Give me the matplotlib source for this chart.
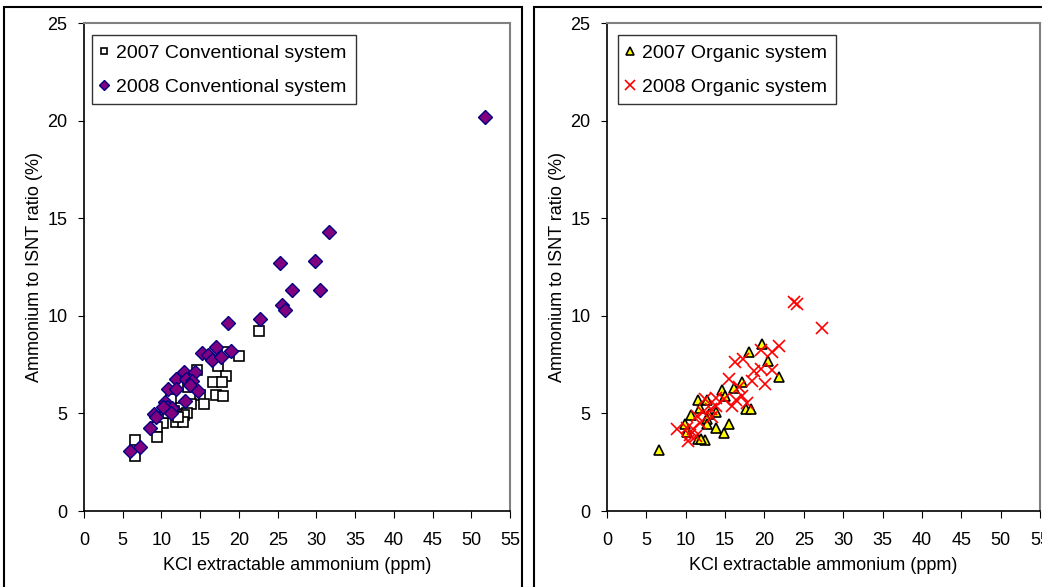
import matplotlib
matplotlib.use("Agg")
import matplotlib.pyplot as plt
from matplotlib.patches import Rectangle

plt.rcParams['font.family'] = ['Liberation Sans', 'DejaVu Sans']

# 2007 conventional system (squares)
conv07_x = [22.6, 20.0, 18.4, 17.35, 14.6, 18.3, 16.7, 17.8, 13.45, 15.0, 17.05, 17.95,
            15.55, 13.75, 11.2, 12.5, 13.36, 12.9, 11.9, 10.0, 10.2, 11.9, 12.8, 9.37,
            9.37, 6.57, 6.57, 11.6, 12.2, 10.9]
conv07_y = [9.24, 7.96, 8.13, 7.43, 7.2, 6.92, 6.63, 6.61, 6.37, 5.96, 5.96, 5.88,
            5.5, 5.5, 5.74, 5.26, 5.0, 4.93, 4.97, 4.83, 4.52, 4.57, 4.57, 4.32,
            3.81, 3.64, 2.82, 5.1, 4.8, 5.0]

# 2008 conventional system (diamonds)
conv08_x = [51.8, 25.3, 26.8, 25.6, 25.9, 18.65, 22.7, 29.8, 31.6, 30.5, 15.25, 16.07,
            17.1, 16.5, 17.7, 19.0, 12.85, 14.3, 11.9, 13.2, 13.96, 13.66, 10.9, 11.9,
            14.7, 13.1, 10.4, 10.66, 11.4, 10.2, 11.17, 9.1, 9.3, 8.5, 5.93, 7.2]
conv08_y = [20.2, 12.69, 11.34, 10.55, 10.3, 9.65, 9.85, 12.8, 14.3, 11.3, 8.08, 7.99,
            8.38, 7.74, 7.87, 8.21, 7.12, 7.12, 6.75, 6.78, 6.68, 6.47, 6.23, 6.23,
            6.13, 5.65, 5.6, 5.34, 5.26, 5.31, 5.0, 4.97, 4.83, 4.27, 3.09, 3.29]

# 2007 organic system (triangles)
org07_x = [6.6, 19.7, 18.1, 20.4, 21.8, 17.1, 16.1, 14.6, 15.0, 17.7, 18.3, 11.6,
           12.75, 11.8, 10.7, 12.9, 13.9, 9.9, 12.67, 12.67, 15.5, 13.9, 14.8, 10.1,
           11.5, 12.46, 12.0]
org07_y = [3.12, 8.58, 8.16, 7.71, 6.86, 6.62, 6.31, 6.21, 5.9, 5.22, 5.22, 5.7,
           5.7, 5.26, 4.91, 4.96, 5.08, 4.45, 4.71, 4.45, 4.45, 4.23, 3.99, 4.03,
           3.68, 3.65, 3.7]

# 2008 organic system (crosses)
org08_x = [23.8, 24.1, 27.3, 21.8, 20.9, 19.5, 17.3, 16.3, 18.7, 19.5, 20.9, 18.4,
           20.1, 15.5, 16.8, 17.1, 17.75, 15.85, 16.4, 14.8, 13.8, 12.4, 13.8, 13.2,
           12.2, 11.4, 13.3, 11.8, 8.86, 10.1, 10.95, 10.5, 10.3, 11.3]
org08_y = [10.7, 10.6, 9.4, 8.46, 8.16, 8.26, 7.78, 7.61, 7.18, 7.3, 7.23, 6.67,
           6.5, 6.76, 6.33, 5.9, 5.53, 5.36, 5.7, 5.73, 5.8, 5.73, 5.4, 5.2,
           5.05, 4.88, 4.8, 4.5, 4.2, 4.23, 4.2, 3.9, 3.6, 3.84]

xticks = list(range(0, 56, 5))
yticks = list(range(0, 26, 5))

fig = plt.figure(figsize=(10.42, 5.87), dpi=100)
W, H = 1042, 587

# panel frames
fig.add_artist(Rectangle((4 / W, -0.05), (522 - 4) / W, 1 - 7 / H + 0.05,
                         transform=fig.transFigure, fill=False, ec='black', lw=1.5))
fig.add_artist(Rectangle((534 / W, -0.05), 0.6, 1 - 7 / H + 0.05,
                         transform=fig.transFigure, fill=False, ec='black', lw=1.5))

ax1 = fig.add_axes([84 / W, 1 - 511 / H, (510 - 84) / W, (511 - 23) / H])
ax2 = fig.add_axes([607 / W, 1 - 511 / H, (1040 - 607) / W, (511 - 23) / H])

ax1.plot(conv07_x, conv07_y, 's', ms=6.5, mfc='white', mec='black', mew=1.2,
         label='2007 Conventional system')
ax1.plot(conv08_x, conv08_y, 'D', ms=6.8, mfc='#800080', mec='#000080', mew=1.0,
         label='2008 Conventional system')

ax2.plot(org07_x, org07_y, '^', ms=7.5, mfc='#FFFF00', mec='black', mew=1.2,
         label='2007 Organic system')
ax2.plot(org08_x, org08_y, 'x', ms=8, mec='#FF0000', mew=1.2, ls='none',
         label='2008 Organic system')

leg_sizes = {ax1: [5, 5], ax2: [5.5, 7.5]}
leg_x = {ax1: 0.019, ax2: 0.025}

for ax in (ax1, ax2):
    ax.set_xlim(0, 55)
    ax.set_ylim(0, 25)
    ax.set_xticks(xticks)
    ax.set_yticks(yticks)
    ax.tick_params(axis='x', direction='out', length=5, pad=10, labelsize=13)
    ax.tick_params(axis='y', direction='out', length=4, pad=8, labelsize=13)
    for s in ('top', 'right'):
        ax.spines[s].set_color('#808080')
        ax.spines[s].set_linewidth(1.5)
    for s in ('left', 'bottom'):
        ax.spines[s].set_color('black')
        ax.spines[s].set_linewidth(1.2)
    ax.set_xlabel('KCl extractable ammonium (ppm)', fontsize=13, labelpad=6)
    ax.set_ylabel('Ammonium to ISNT ratio (%)', fontsize=13, labelpad=3)
    leg = ax.legend(loc='upper left', bbox_to_anchor=(leg_x[ax], 0.975), fontsize=14,
                    frameon=True, fancybox=False, edgecolor='black',
                    handlelength=0.35, handletextpad=0.45, borderpad=0.45,
                    labelspacing=0.85, borderaxespad=0)
    leg.get_frame().set_linewidth(1.0)
    for h, sz in zip(leg.legend_handles, leg_sizes[ax]):
        h.set_markersize(sz)

fig.savefig('out.png', dpi=100)
